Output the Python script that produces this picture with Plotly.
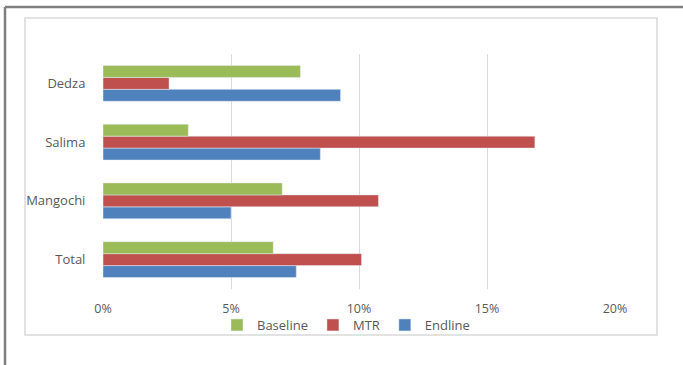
import plotly.graph_objects as go

categories = ["Dedza", "Salima", "Mangochi", "Total"]
baseline = [0.0771, 0.0333, 0.0700, 0.0665]
mtr = [0.0258, 0.1687, 0.1076, 0.1010]
endline = [0.0928, 0.0849, 0.0500, 0.0755]
x_ticks = [0, 0.05, 0.10, 0.15, 0.20]
x_tick_labels = ["0%", "5%", "10%", "15%", "20%"]

W, H = 683, 365
L, R, T, B = 103, 615, 54, 289

def px(x):
    return (x - L) / (R - L)

def py(y):
    return (B - y) / (B - T)

family = "Open Sans, Liberation Sans, sans-serif"
font = dict(family=family, size=12.5, color="#595959")
yfont = dict(family=family, size=13, color="#595959")

fig = go.Figure()
fig.add_trace(go.Bar(name="Endline", y=categories, x=endline, orientation="h",
                     marker_color="#4F81BD"))
fig.add_trace(go.Bar(name="MTR", y=categories, x=mtr, orientation="h",
                     marker_color="#C0504D"))
fig.add_trace(go.Bar(name="Baseline", y=categories, x=baseline, orientation="h",
                     marker_color="#9BBB59"))

shapes = [
    dict(type="rect", xref="paper", yref="paper",
         x0=px(25), x1=px(657), y0=py(335), y1=py(18),
         line=dict(color="#D9D9D9", width=1.5), layer="below"),
    dict(type="line", xref="paper", yref="paper",
         x0=px(5), x1=px(683), y0=py(7), y1=py(7),
         line=dict(color="#7F7F7F", width=2.5)),
    dict(type="line", xref="paper", yref="paper",
         x0=px(5), x1=px(5), y0=py(7), y1=py(365),
         line=dict(color="#7F7F7F", width=2.5)),
]

fig.update_layout(
    width=W, height=H,
    margin=dict(l=L, r=W - R, t=T, b=H - B),
    barmode="group", bargap=0.39, bargroupgap=0,
    plot_bgcolor="white", paper_bgcolor="white",
    font=font,
    shapes=shapes,
    showlegend=True,
    legend=dict(orientation="h", traceorder="reversed",
                x=px(346), xanchor="center", y=py(325), yanchor="middle",
                font=dict(family=family, size=13, color="#595959"),
                itemwidth=30, bgcolor="rgba(0,0,0,0)",
                tracegroupgap=0),
    xaxis=dict(range=[0, 0.2], tickvals=x_ticks, ticktext=x_tick_labels,
               showgrid=True, gridcolor="#D9D9D9", gridwidth=1,
               zeroline=False, showline=False,
               ticks="outside", ticklen=8, tickcolor="rgba(0,0,0,0)",
               tickfont=font, fixedrange=True),
    yaxis=dict(categoryorder="array", categoryarray=categories[::-1],
               showgrid=False, zeroline=False, showline=False,
               ticks="outside", ticklen=14, tickcolor="rgba(0,0,0,0)",
               tickfont=yfont, fixedrange=True),
)

fig.write_html("out.html")
